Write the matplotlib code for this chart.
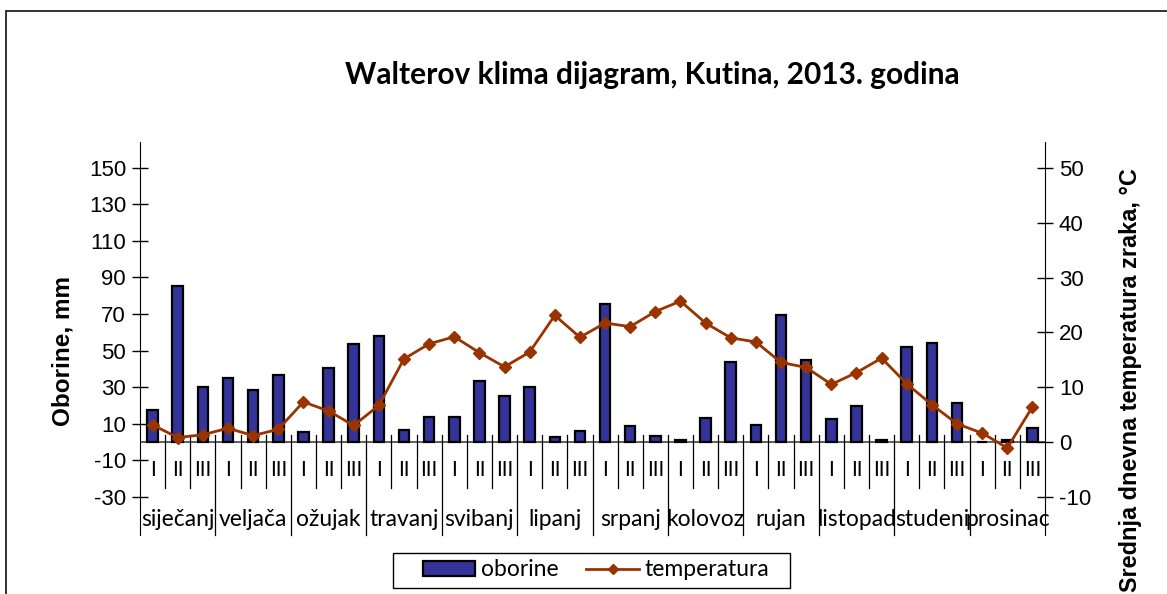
import matplotlib.pyplot as plt
from matplotlib.patches import Rectangle
from matplotlib.lines import Line2D

# Walter climate diagram, Kutina 2013 - ten-day periods (dekade)
months = ['siječanj', 'veljača', 'ožujak', 'travanj', 'svibanj', 'lipanj',
          'srpanj', 'kolovoz', 'rujan', 'listopad', 'studeni', 'prosinac']
decades = ['I', 'II', 'III']

oborine = [17.5, 85.4, 29.8, 35.0, 28.6, 36.4,
           5.5, 40.4, 53.7, 57.8, 6.7, 13.7,
           13.8, 33.5, 25.1, 30.0, 2.7, 5.8,
           75.7, 8.9, 3.4, 0.8, 13.3, 43.5,
           9.3, 69.2, 44.8, 12.6, 19.7, 0.9,
           51.9, 54.3, 21.5, 0.0, 0.8, 7.4]

temperatura = [3.1, 0.8, 1.3, 2.5, 1.15, 2.3,
               7.3, 5.65, 3.0, 6.65, 15.15, 17.9,
               19.2, 16.3, 13.7, 16.4, 23.1, 19.1,
               21.7, 21.05, 23.8, 25.7, 21.7, 19.0,
               18.25, 14.5, 13.6, 10.5, 12.65, 15.3,
               10.6, 6.8, 3.3, 1.6, -1.1, 6.4]

left_ticks = [-30, -10, 10, 30, 50, 70, 90, 110, 130, 150]
right_ticks = [-10, 0, 10, 20, 30, 40, 50]

W, H = 1167, 594
fig = plt.figure(figsize=(W / 100, H / 100), dpi=100)
ax = fig.add_axes([140 / W, 1 - 535 / H, (1045 - 140) / W, (535 - 142) / H])
ax2 = ax.twinx()

x = list(range(len(oborine)))
ax.bar(x, oborine, width=0.42, color='#333399', edgecolor='black', linewidth=1.6, zorder=3)
ax2.plot(x, temperatura, color='#993300', lw=2, marker='D', ms=6, zorder=4)

ax.set_xlim(-0.5, len(x) - 0.5)
ax.set_ylim(-50.9, 164.1)
ax2.set_ylim(-17.0, 54.76)
ax.set_yticks(left_ticks)
ax2.set_yticks(right_ticks)
ax.set_xticks([])

num_font = dict(family='Liberation Sans', size=16)
ax.set_yticklabels([str(t) for t in left_ticks], fontdict=num_font)
ax2.set_yticklabels([str(t) for t in right_ticks], fontdict=num_font)
ax.tick_params(axis='y', direction='inout', length=12, width=1, pad=4)
ax2.tick_params(axis='y', direction='inout', length=12, width=1, pad=4)

for a in (ax, ax2):
    a.spines['top'].set_visible(False)
    a.spines['bottom'].set_visible(False)
    a.patch.set_visible(False)
ax.spines['right'].set_visible(False)
ax2.spines['left'].set_visible(False)

# category axis at zero with two-level labels
ax.axhline(0, color='#444444', lw=1.2, zorder=2)
tr = ax.get_xaxis_transform()
zero_frac = (535 - 442) / (535 - 142)
for i in range(1, len(x)):
    bottom = 0.0 if i % 3 == 0 else 0.12
    ax.plot([i - 0.5, i - 0.5], [zero_frac + 0.018, bottom], transform=tr,
            color='black', lw=0.9, clip_on=False)
for i in range(len(x)):
    ax.text(i, 0.165, decades[i % 3], transform=tr, ha='center', va='center',
            family='Lato', fontsize=15)
for m, name in enumerate(months):
    ax.text(3 * m + 1, 0.04, name, transform=tr, ha='center', va='center',
            family='Lato', fontsize=16.5)

fig.text(652 / W, 1 - 84 / H, 'Walterov klima dijagram, Kutina, 2013. godina',
         ha='center', va='baseline', family='Lato', fontweight='bold', fontsize=21.5)
fig.text(63 / W, 1 - 351 / H, 'Oborine, mm', rotation=90, ha='center', va='center',
         family='Liberation Sans', fontweight='bold', fontsize=17.5)
fig.text(1131 / W, 1 - 168 / H, 'Srednja dnevna temperatura zraka, °C', rotation=90,
         ha='center', va='top', family='Liberation Sans', fontweight='bold', fontsize=16.9)

handles = [Rectangle((0, 0), 1, 1, facecolor='#333399', edgecolor='black', lw=1.6),
           Line2D([], [], color='#993300', lw=2, marker='D', ms=5)]
leg = fig.legend(handles, ['oborine', 'temperatura'], loc='center',
                 bbox_to_anchor=(596 / W, 1 - 570 / H), ncol=2, frameon=False,
                 prop=dict(family='Lato', size=16.5),
                 handlelength=2.3, handleheight=0.6, columnspacing=1.2,
                 borderpad=0.1, handletextpad=0.25)
fig.add_artist(Rectangle((393 / W, 1 - 588 / H), (790 - 393) / W, 35 / H,
                         transform=fig.transFigure, fill=False, edgecolor='black', lw=1))

# outer chart area border (cut off at right and bottom)
fig.add_artist(Rectangle((6 / W, -0.2), 1.2, 1.2 - 11 / H, transform=fig.transFigure,
                         fill=False, edgecolor='#222222', lw=1.3, clip_on=False))

fig.savefig('out.png', dpi=100)
